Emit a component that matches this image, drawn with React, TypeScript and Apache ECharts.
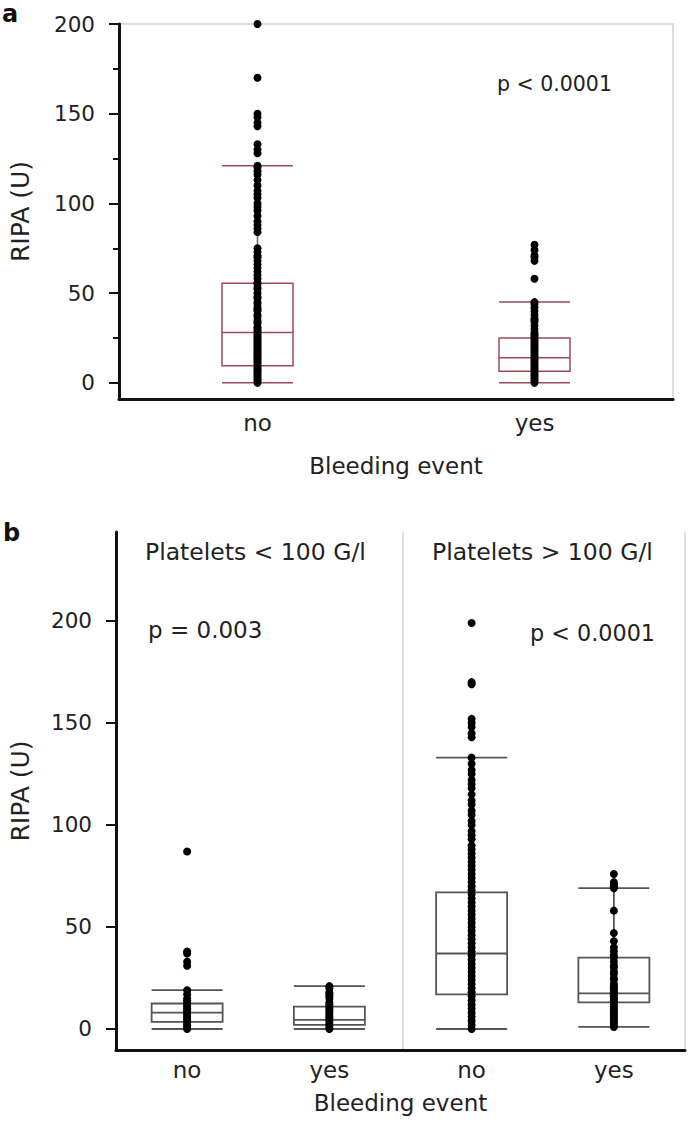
import React, { useEffect, useRef } from "react";
import * as echarts from "echarts";

const FONT = "DejaVu Sans";

// Panel a
const categoriesA = ["no", "yes"];
// [min, Q1, median, Q3, max]
const boxA = [
  [0, 9.5, 28, 55.5, 121],
  [0, 6.5, 14, 25, 45],
];
const pointsANo = [
  200, 170, 150, 148, 145, 143, 133, 130, 128, 121, 120, 118, 116, 113, 110, 107, 105, 103, 100, 98, 96, 93,
  90, 88, 86, 84, 75, 73, 71, 70, 68, 66, 64, 62, 60, 58, 56, 55, 53, 52, 50, 48, 47, 45, 44, 42, 41, 40, 38,
  37, 35, 34, 33, 31, 30, 29, 28, 27, 26, 25, 24, 23, 22, 21, 20, 19, 18, 17, 16, 15, 14, 13, 12, 11, 10, 9,
  8, 7, 6, 5, 4, 3, 2, 1, 0,
];
const pointsAYes = [
  77, 74, 71, 70, 68, 58, 45, 44, 42, 40, 38, 36, 35, 34, 32, 30, 28, 27, 26, 25, 24, 23, 22, 21, 20, 19, 18,
  17, 16, 15, 14, 13, 12, 11, 10, 9, 8, 7, 6, 5, 4, 3, 2, 1, 0,
];

// Panel b
const categoriesB = ["no", "yes", "no", "yes"];
const boxB = [
  [0, 3.5, 8, 12.5, 19],
  [0, 2, 4.5, 11, 21],
  [0, 17, 37, 67, 133],
  [1, 13, 17.5, 35, 69],
];
const pointsBLowNo = [87, 38, 37, 33, 31, 19, 17, 15, 14, 13, 12, 11, 10, 9, 8, 7, 6, 5, 4, 3, 2, 1, 0];
const pointsBLowYes = [21, 20, 18, 17, 16, 15, 13, 12, 11, 10, 9, 8, 7, 6, 5, 4, 3, 2, 1, 0];
const pointsBHighNo = [
  199, 170, 169, 152, 150, 148, 145, 143, 133, 130, 127, 125, 122, 120, 118, 115, 112, 110, 107, 105, 102, 100,
  97, 95, 93, 90, 88, 86, 84, 82, 80, 78, 76, 74, 72, 70, 68, 66, 64, 62, 60, 58, 56, 54, 52, 50, 48, 46, 44,
  42, 40, 38, 36, 34, 32, 30, 28, 26, 24, 22, 20, 18, 16, 14, 12, 10, 8, 6, 4, 2, 0,
];
const pointsBHighYes = [
  76, 72, 71, 70, 69, 58, 47, 43, 40, 38, 36, 35, 33, 31, 30, 28, 27, 25, 24, 22, 21, 20, 19, 18, 17, 16, 15,
  14, 13, 12, 11, 10, 9, 8, 7, 6, 5, 4, 3, 2, 1,
];

const yTicks = [0, 50, 100, 150, 200];
const yMinorTicksA = [25, 75, 125, 175];
const yRangeA = [-9, 200];
const yRangeB = [-10.3, 243.6];

const toPts = (idx: number, arr: number[]) => arr.map((v) => [idx, v]);

export default function App() {
  const ref = useRef<HTMLDivElement>(null);
  useEffect(() => {
    document.body.style.margin = "0";
    const chart = echarts.init(ref.current!, undefined, { renderer: "svg" });
    const axisText = { color: "#222", fontFamily: FONT };
    const gridB = { left: 112, top: 532, width: 573, height: 518 };
    const mainY = (gridIndex: number, range: number[], nameGap: number) => ({
      type: "value",
      gridIndex,
      position: "left",
      min: range[0],
      max: range[1],
      splitLine: { show: false },
      axisLine: { show: true, lineStyle: { color: "#111", width: 3 } },
      axisTick: { show: true, length: 10, customValues: yTicks, lineStyle: { color: "#111", width: 2 } },
      axisLabel: { ...axisText, fontSize: 21.5, margin: 24, customValues: yTicks },
      name: "RIPA (U)",
      nameLocation: "middle",
      nameRotate: 90,
      nameGap,
      nameTextStyle: { ...axisText, fontSize: 25 },
      z: 3,
    });
    const catX = (gridIndex: number, data: string[], margin: number, nameGap: number) => ({
      type: "category",
      gridIndex,
      data,
      boundaryGap: true,
      axisLine: { onZero: false, lineStyle: { color: "#111", width: 3 } },
      axisTick: { show: false },
      axisLabel: { ...axisText, fontSize: 23, margin },
      name: "Bleeding event",
      nameLocation: "middle",
      nameGap,
      nameTextStyle: { ...axisText, fontSize: 23 },
      z: 3,
    });
    const grayLineY = (gridIndex: number, range: number[], position: string, offset: number) => ({
      type: "value",
      gridIndex,
      position,
      offset,
      min: range[0],
      max: range[1],
      splitLine: { show: false },
      axisLine: { show: true, lineStyle: { color: "#d4d4d4", width: 1.5 } },
      axisLabel: { show: false },
      axisTick: { show: false },
      z: 1,
    });
    const scatter = (xi: number, yi: number, data: number[][]) => ({
      type: "scatter",
      xAxisIndex: xi,
      yAxisIndex: yi,
      data,
      symbol: "circle",
      symbolSize: 8,
      itemStyle: { color: "#000", opacity: 1 },
      z: 5,
      silent: true,
    });
    chart.setOption({
      animation: false,
      backgroundColor: "#fff",
      grid: [
        { left: 115, top: 24, width: 558, height: 375, show: true, borderColor: "#d4d4d4", borderWidth: 1.5, backgroundColor: "transparent" },
        gridB,
      ],
      xAxis: [catX(0, categoriesA, 12, 55), catX(1, categoriesB, 8, 41)],
      yAxis: [
        mainY(0, yRangeA, 86),
        {
          type: "value",
          gridIndex: 0,
          position: "left",
          min: yRangeA[0],
          max: yRangeA[1],
          splitLine: { show: false },
          axisLine: { show: false },
          axisLabel: { show: false, customValues: yMinorTicksA },
          axisTick: { show: true, length: 6, customValues: yMinorTicksA, lineStyle: { color: "#111", width: 2 } },
        },
        mainY(1, yRangeB, 83),
        grayLineY(1, yRangeB, "right", 0),
        // divider between the two platelet groups (boundary between 2nd and 3rd category)
        grayLineY(1, yRangeB, "left", -gridB.width / 2),
      ],
      series: [
        {
          type: "boxplot",
          xAxisIndex: 0,
          yAxisIndex: 0,
          data: boxA,
          boxWidth: [71, 71],
          itemStyle: { color: "rgba(0,0,0,0)", borderColor: "#9b4a5c", borderWidth: 1.5 },
          silent: true,
        },
        scatter(0, 0, [...toPts(0, pointsANo), ...toPts(1, pointsAYes)]),
        {
          type: "boxplot",
          xAxisIndex: 1,
          yAxisIndex: 2,
          data: boxB,
          boxWidth: [71, 71],
          itemStyle: { color: "rgba(0,0,0,0)", borderColor: "#555", borderWidth: 1.8 },
          silent: true,
        },
        scatter(1, 2, [
          ...toPts(0, pointsBLowNo),
          ...toPts(1, pointsBLowYes),
          ...toPts(2, pointsBHighNo),
          ...toPts(3, pointsBHighYes),
        ]),
      ],
      graphic: [
        { type: "text", x: 2, y: 14, style: { text: "a", fontSize: 24, fontWeight: "bold", fontFamily: FONT, fill: "#111", verticalAlign: "middle" } },
        { type: "text", x: 3, y: 533, style: { text: "b", fontSize: 24, fontWeight: "bold", fontFamily: FONT, fill: "#111", verticalAlign: "middle" } },
        { type: "text", x: 497, y: 84, style: { text: "p < 0.0001", fontSize: 20.5, fontFamily: FONT, fill: "#222", verticalAlign: "middle" } },
        { type: "text", x: 145, y: 552, style: { text: "Platelets < 100 G/l", fontSize: 23.5, fontFamily: FONT, fill: "#222", verticalAlign: "middle" } },
        { type: "text", x: 432, y: 552, style: { text: "Platelets > 100 G/l", fontSize: 23.5, fontFamily: FONT, fill: "#222", verticalAlign: "middle" } },
        { type: "text", x: 148, y: 630, style: { text: "p = 0.003", fontSize: 23, fontFamily: FONT, fill: "#222", verticalAlign: "middle" } },
        { type: "text", x: 530, y: 633, style: { text: "p < 0.0001", fontSize: 22.3, fontFamily: FONT, fill: "#222", verticalAlign: "middle" } },
      ],
    });
    return () => chart.dispose();
  }, []);
  return <div ref={ref} style={{ width: 691, height: 1142 }} />;
}
